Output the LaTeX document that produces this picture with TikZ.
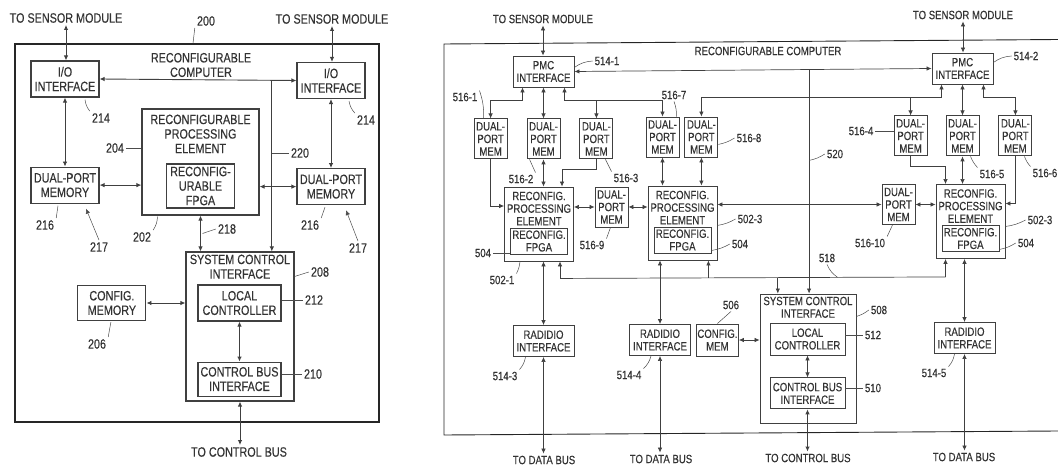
\documentclass[tikz,border=0pt]{standalone}
\usepackage{fontspec}
\setmainfont[FakeStretch=0.8,FakeBold=0.3]{Liberation Sans}
\usetikzlibrary{arrows.meta,positioning,calc}

\begin{document}
\begin{tikzpicture}[
    x=1pt,y=-1pt,
    >={Latex[length=5pt,width=4.5pt]},
    fontL/.style={font=\fontsize{13.5}{14.5}\selectfont},
    fontR/.style={font=\fontsize{12}{12.6}\selectfont},
    blockL/.style={draw=black!75,line width=1.1pt,align=center,inner sep=0pt,fontL,text=black!80},
    blockR/.style={draw=black!75,line width=0.9pt,align=center,inner sep=0pt,fontR,text=black!80},
    mem/.style={blockR,minimum width=33pt,minimum height=40pt},
    pmc/.style={blockR,minimum width=61pt,minimum height=31pt},
    fpgabox/.style={blockR,minimum width=57pt,minimum height=26pt},
    rpebox/.style={blockR,minimum width=69pt,minimum height=74pt},
    txtL/.style={align=center,inner sep=2pt,fontL,text=black!80},
    txtR/.style={align=center,inner sep=2pt,fontR,text=black!80},
    linkL/.style={<->,draw=black!75,line width=0.9pt},
    linkR/.style={<->,draw=black!75,line width=0.7pt},
    oneL/.style={->,draw=black!75,line width=0.9pt},
    oneR/.style={->,draw=black!75,line width=0.7pt},
    lead/.style={draw=black!70,line width=0.5pt},
]
    \useasboundingbox (0,0) rectangle (1058,465);

    % left figure
    \node[draw=black!85,line width=1.2pt,minimum width=364pt,minimum height=378pt,inner sep=0pt] (frameL) at (197,233) {};
    \node[blockL,minimum width=68pt,minimum height=36pt] (ioL) at (65,79) {I/O\\INTERFACE};
    \node[blockL,minimum width=68pt,minimum height=36pt] (ioR) at (331,80.5) {I/O\\INTERFACE};
    \node[blockL,minimum width=68pt,minimum height=36pt,below=69pt of ioL] (memL) {DUAL-PORT\\MEMORY};
    \node[blockL,minimum width=68pt,minimum height=36pt,below=69pt of ioR] (memR) {DUAL-PORT\\MEMORY};
    \node[blockL,minimum width=117pt,minimum height=106pt] (rpe) at (200.5,162) {};
    \node[txtL,below=4pt of rpe.north] (rpeT) {RECONFIGURABLE\\PROCESSING\\ELEMENT};
    \node[blockL,minimum width=68pt,minimum height=44pt,above=7pt of rpe.south] (fpga) {RECONFIG-\\URABLE\\FPGA};
    \node[blockL,minimum width=108pt,minimum height=149pt] (sci) at (240,326.5) {};
    \node[txtL,below=1pt of sci.north] (sciT) {SYSTEM CONTROL\\INTERFACE};
    \node[blockL,minimum width=83pt,minimum height=36pt] (loc) at (239.5,303) {LOCAL\\CONTROLLER};
    \node[blockL,minimum width=83pt,minimum height=34pt,below=40pt of loc] (cbus) {CONTROL BUS\\INTERFACE};
    \node[blockL,minimum width=68pt,minimum height=35pt,left=51pt of loc] (cfg) {CONFIG.\\MEMORY};

    \node[txtL] (tsL) at (66,18) {TO SENSOR MODULE};
    \node[txtL] (tsR) at (332,19) {TO SENSOR MODULE};
    \node[txtL] (tcb) at (239,452) {TO CONTROL BUS};
    \node[txtL] (title) at (201,65) {RECONFIGURABLE\\COMPUTER};

    \draw[linkL] (tsL.south) -- (tsL.south |- ioL.north);
    \draw[linkL] (tsR.south) -- (tsR.south |- ioR.north);
    \draw[linkL] (ioL.east) -- (ioR.west);
    \draw[linkL] (ioL.south) -- (ioL.south |- memL.north);
    \draw[linkL] (ioR.south) -- (ioR.south |- memR.north);
    \draw[linkL] (memL.east) -- (memL.east -| rpe.west);
    \draw[linkL] (memR.west) -- (memR.west -| rpe.east);
    \draw[linkL] (rpe.south) -- (rpe.south |- sci.north);
    \coordinate (busL) at ($(ioL.east)!0.875!(ioR.west)$);
    \draw[oneL] (busL) -- (busL |- sci.north);
    \draw[linkL] (cfg.east) -- (cfg.east -| sci.west);
    \draw[linkL] (loc.south) -- (cbus.north);
    \draw[linkL] (sci.south) -- (sci.south |- tcb.north);

    \node[txtL] (n200) at (206,21) {200};
    \node[txtL] (n214a) at (101,118) {214};
    \node[txtL] (n214b) at (366,120) {214};
    \node[txtL] (n204) at (115,148) {204};
    \node[txtL] (n220) at (300,153) {220};
    \node[txtL] (n216a) at (45,225) {216};
    \node[txtL] (n216b) at (310,225) {216};
    \node[txtL] (n217a) at (99,247) {217};
    \node[txtL] (n217b) at (358,248) {217};
    \node[txtL] (n202) at (142,237) {202};
    \node[txtL] (n218) at (227,229) {218};
    \node[txtL] (n208) at (320,272) {208};
    \node[txtL] (n212) at (314,300) {212};
    \node[txtL] (n210) at (313,374) {210};
    \node[txtL] (n206) at (97,344) {206};
    \draw[lead] (n200.south west) -- ($(frameL.north)+(-4,0)$);
    \draw[lead] (n214a.north west) to[bend left=15] ($(ioL.south)+(20,2)$);
    \draw[lead] (n214b.north west) to[bend left=15] ($(ioR.south)+(18,2)$);
    \draw[lead] (n204.east) -- (n204.east -| rpe.west);
    \draw[lead] (n220.west) -- (busL |- n220.west);
    \draw[lead] (n216a.north east) -- ($(memL.south)+(-7,2)$);
    \draw[lead] (n216b.north east) -- ($(memR.south)+(-6,2)$);
    \coordinate (tipA) at ($(memL.south)+(21,5)$);
    \coordinate (tipB) at ($(memR.south)+(15,5)$);
    \draw[->,lead] (n217a.north) -- (tipA);
    \draw[->,lead] (n217b.north) -- (tipB);
    \draw[lead] (n202.north east) to[bend right=15] ($(rpe.south)+(-43,1)$);
    \draw[lead] (n218.west) -- ($(rpe.south)!0.5!(rpe.south |- sci.north)+(2,0)$);
    \draw[lead] (n208.west) -- ($(sci.east)+(0,-50)$);
    \draw[lead] (n212.west) -- (loc.east |- n212.west);
    \draw[lead] (n210.west) -- (cbus.east |- n210.west);
    \draw[lead] (n206.north east) -- ($(cfg.south)+(-1,1)$);

    % right figure
    \coordinate (frameA) at (1058,39.5);
    \coordinate (frameB) at (444,44);
    \coordinate (frameC) at (444,435);
    \coordinate (frameD) at (1058,431);
    \draw[draw=black!85,line width=0.9pt] (frameA) -- (frameB) -- (frameC) -- (frameD);

    \node[pmc] (pmcA) at (543.5,71.5) {PMC\\INTERFACE};
    \node[pmc] (pmcB) at (962.5,68.5) {PMC\\INTERFACE};
    \node[mem,below=31pt of pmcA] (dpB) {DUAL-\\PORT\\MEM};
    \node[mem,left=19pt of dpB] (dpA) {DUAL-\\PORT\\MEM};
    \node[mem,right=19pt of dpB] (dpC) {DUAL-\\PORT\\MEM};
    \node[mem] (dpG) at (662.5,137) {DUAL-\\PORT\\MEM};
    \node[mem,right=5pt of dpG] (dpH) {DUAL-\\PORT\\MEM};
    \node[mem,below=31pt of pmcB] (dpE) {DUAL-\\PORT\\MEM};
    \node[mem,left=18pt of dpE] (dpD) {DUAL-\\PORT\\MEM};
    \node[mem,right=19pt of dpE] (dpF) {DUAL-\\PORT\\MEM};
    \node[mem] (dpI) at (611.5,207) {DUAL-\\PORT\\MEM};
    \node[mem] (dpJ) at (898.5,204.5) {DUAL-\\PORT\\MEM};

    \node[rpebox] (rpeA) at (539,224) {};
    \node[rpebox] (rpeB) at (682.5,223) {};
    \node[rpebox] (rpeC) at (970.5,221.5) {};
    \node[txtR,below=3pt of rpeA.north] (rpeAT) {RECONFIG.\\PROCESSING\\ELEMENT};
    \node[txtR,below=3pt of rpeB.north] (rpeBT) {RECONFIG.\\PROCESSING\\ELEMENT};
    \node[txtR,below=3pt of rpeC.north] (rpeCT) {RECONFIG.\\PROCESSING\\ELEMENT};
    \node[fpgabox,above=7pt of rpeA.south] (fpgaA) {RECONFIG.\\FPGA};
    \node[fpgabox,above=7pt of rpeB.south] (fpgaB) {RECONFIG.\\FPGA};
    \node[fpgabox,above=7pt of rpeC.south] (fpgaC) {RECONFIG.\\FPGA};

    \node[pmc] (radA) at (543.5,341) {RADIDIO\\INTERFACE};
    \node[pmc] (radB) at (660,340) {RADIDIO\\INTERFACE};
    \node[pmc] (radC) at (964.5,338) {RADIDIO\\INTERFACE};
    \node[blockR,minimum width=42pt,minimum height=32pt,right=5pt of radB] (cfgR) {CONFIG.\\MEM};
    \node[blockR,minimum width=96pt,minimum height=129pt] (sciR) at (808,358.5) {};
    \node[txtR,below=1pt of sciR.north] (sciRT) {SYSTEM CONTROL\\INTERFACE};
    \node[blockR,minimum width=75pt,minimum height=32pt] (locR) at (807.5,339) {LOCAL\\CONTROLLER};
    \node[blockR,minimum width=75pt,minimum height=31pt,below=22pt of locR] (cbusR) {CONTROL BUS\\INTERFACE};

    \node[txtR] (tsA) at (543,19) {TO SENSOR MODULE};
    \node[txtR] (tsB) at (963,15) {TO SENSOR MODULE};
    \node[txtR] (dbA) at (544,460) {TO DATA BUS};
    \node[txtR] (dbB) at (661,459) {TO DATA BUS};
    \node[txtR] (tcbR) at (808,458) {TO CONTROL BUS};
    \node[txtR] (dbC) at (964,457) {TO DATA BUS};
    \node[txtR] (titleR) at (768,51) {RECONFIGURABLE COMPUTER};

    \draw[linkR] (tsA.south) -- (tsA.south |- pmcA.north);
    \draw[linkR] (tsB.south) -- (tsB.south |- pmcB.north);
    \draw[linkR] (pmcA.east) -- (pmcB.west);
    \coordinate (busR) at ($(pmcA.east)!0.657!(pmcB.west)$);
    \draw[oneR] (busR) -- (busR |- sciR.north);

    % upper memory bus, left part
    \draw[linkR] ($(pmcA.south)+(-21,0)$) -- ++(0,13) -| (dpA.north);
    \draw[linkR] (pmcA.south) -- (dpB.north);
    \draw[linkR] ($(pmcA.south)+(21,0)$) -- ++(0,13) -| (dpG.north);
    \draw[oneR] ($(dpC.north)+(0,-18)$) -- (dpC.north);
    % upper memory bus, right part
    \draw[linkR] (dpH.north) -- ++(0,-19) -| ($(pmcB.south)+(-21,0)$);
    \draw[oneR] ($(dpD.north)+(0,-17)$) -- (dpD.north);
    \draw[linkR] (pmcB.south) -- (dpE.north);
    \draw[linkR] ($(pmcB.south)+(21,0)$) -- ++(0,13) -| (dpF.north);

    % memories to processing elements
    \draw[oneR] (dpA.south) |- ($(rpeA.west)+(0,-18)$);
    \draw[linkR] (dpB.south) -- (dpB.south |- rpeA.north);
    \draw[oneR] (dpC.south) -- ++(0,10) -| ($(rpeA.north)+(23,0)$);
    \draw[linkR] (dpI.west) -- (dpI.west -| rpeA.east);
    \draw[linkR] (dpI.east) -- (dpI.east -| rpeB.west);
    \draw[linkR] (dpG.south) -- (dpG.south |- rpeB.north);
    \draw[linkR] (dpH.south) -- (dpH.south |- rpeB.north);
    \draw[linkR] (dpJ.west) -- (dpJ.west -| rpeB.east);
    \draw[linkR] (dpJ.east) -- (dpJ.east -| rpeC.west);
    \draw[oneR] (dpD.south) -- ++(0,10) -| ($(rpeC.north)+(-25,0)$);
    \draw[linkR] (dpE.south) -- (dpE.south |- rpeC.north);
    \draw[oneR] (dpF.south) |- ($(rpeC.east)+(0,-18)$);

    % control line and outside links
    \coordinate (ctlA) at ($(rpeA.south)+(21,17)$);
    \coordinate (ctlB) at ($(rpeC.south)+(-25,18)$);
    \draw[linkR,-] (ctlA) -- (ctlB);
    \draw[oneR] (ctlA) -- (ctlA |- rpeA.south);
    \draw[oneR] (ctlB) -- (ctlB |- rpeC.south);
    \coordinate (ctlC) at ($(ctlA)!0.385!(ctlB)$);
    \coordinate (ctlD) at ($(ctlA)!0.565!(ctlB)$);
    \draw[oneR] (ctlC) -- (ctlC |- rpeB.south);
    \draw[oneR] (ctlD) -- (ctlD |- sciR.north);
    \draw[linkR] (radA.north) -- (radA.north |- rpeA.south);
    \draw[linkR] (radB.north) -- (radB.north |- rpeB.south);
    \draw[linkR] (radC.north) -- (radC.north |- rpeC.south);
    \draw[linkR] (radA.south) -- (radA.south |- dbA.north);
    \draw[linkR] (radB.south) -- (radB.south |- dbB.north);
    \draw[linkR] (radC.south) -- (radC.south |- dbC.north);
    \draw[linkR] (cfgR.east) -- (cfgR.east -| sciR.west);
    \draw[linkR] (locR.south) -- (cbusR.north);
    \draw[linkR,line width=1pt] (cbusR.south) -- (cbusR.south |- tcbR.north);

    \node[txtR] (n5141) at (607,61) {514-1};
    \node[txtR] (n5142) at (1026,56) {514-2};
    \node[txtR] (n5143) at (505,376) {514-3};
    \node[txtR] (n5144) at (629,375) {514-4};
    \node[txtR] (n5145) at (934,373) {514-5};
    \node[txtR] (n5161) at (465,97) {516-1};
    \node[txtR] (n5162) at (521,179) {516-2};
    \node[txtR] (n5163) at (626,178) {516-3};
    \node[txtR] (n5164) at (861,131) {516-4};
    \node[txtR] (n5165) at (992,174) {516-5};
    \node[txtR] (n5166) at (1045,173) {516-6};
    \node[txtR] (n5167) at (674,95) {516-7};
    \node[txtR] (n5168) at (749,138) {516-8};
    \node[txtR] (n5169) at (592,245) {516-9};
    \node[txtR] (n51610) at (870,243) {516-10};
    \node[txtR] (n5021) at (502,280) {502-1};
    \node[txtR] (n5022) at (750,219) {502-3};
    \node[txtR] (n5023) at (1040,220) {502-3};
    \node[txtR] (n504a) at (483,253) {504};
    \node[txtR] (n504b) at (740,244) {504};
    \node[txtR] (n504c) at (1026,243) {504};
    \node[txtR] (n506) at (731,305) {506};
    \node[txtR] (n508) at (879,310) {508};
    \node[txtR] (n510) at (873,388) {510};
    \node[txtR] (n512) at (873,335) {512};
    \node[txtR] (n518) at (827,258) {518};
    \node[txtR] (n520) at (835,154) {520};

    \draw[lead] (n5141.west) to[bend right=15] (pmcA.east |- n5141.south);
    \draw[lead] (n5142.west) to[bend right=15] (pmcB.east |- n5142.south);
    \draw[lead] (n5143.north east) to[bend right=15] ($(radA.south)+(-18,0)$);
    \draw[lead] (n5144.north east) to[bend right=15] ($(radB.south)+(-9,0)$);
    \draw[lead] (n5145.north east) to[bend right=15] ($(radC.south)+(-10,0)$);
    \draw[lead] (n5161.north east) to[bend left=10] ($(dpA.north)+(-7,0)$);
    \draw[lead] (n5162.north east) -- ($(dpB.south)+(-14,0)$);
    \draw[lead] (n5163.north west) -- ($(dpC.south)+(9,0)$);
    \draw[lead] (n5164.east) -- (n5164.east -| dpD.west);
    \draw[lead] (n5165.north west) to[bend left=10] ($(dpE.south)+(8,0)$);
    \draw[lead] (n5166.north west) to[bend left=10] ($(dpF.south)+(9,0)$);
    \draw[lead] (n5167.south) to[bend left=10] ($(dpG.north)+(14,0)$);
    \draw[lead] (n5168.west) to[bend left=10] (dpH.east |- n5168.south);
    \draw[lead] (n5169.north east) -- ($(dpI.south)+(-1,0)$);
    \draw[lead] (n51610.north east) -- ($(dpJ.south)+(-6,0)$);
    \draw[lead] (n5021.north east) to[bend right=10] ($(rpeA.south)+(-19,0)$);
    \draw[lead] (n5022.west) to[bend left=10] (rpeB.east |- n5022.south);
    \draw[lead] (n5023.west) to[bend left=10] (rpeC.east |- n5023.south);
    \draw[lead] (n504a.east) -- (n504a.east -| fpgaA.west);
    \draw[lead] (n504b.west) to[bend left=10] (fpgaB.east |- n504b.south);
    \draw[lead] (n504c.west) to[bend left=10] (fpgaC.east |- n504c.south);
    \draw[lead] (n506.south) -- (cfgR.north);
    \draw[lead] (n508.west) to[bend left=10] (sciR.east |- n508.south);
    \draw[lead] (n510.west) -- (cbusR.east |- n510.west);
    \draw[lead] (n512.west) -- (locR.east |- n512.west);
    \draw[lead] (n518.south) to[bend right=15] ($(ctlA)!0.72!(ctlB)$);
    \draw[lead] (n520.west) to[bend left=10] (busR |- n520.south);
\end{tikzpicture}
\end{document}
